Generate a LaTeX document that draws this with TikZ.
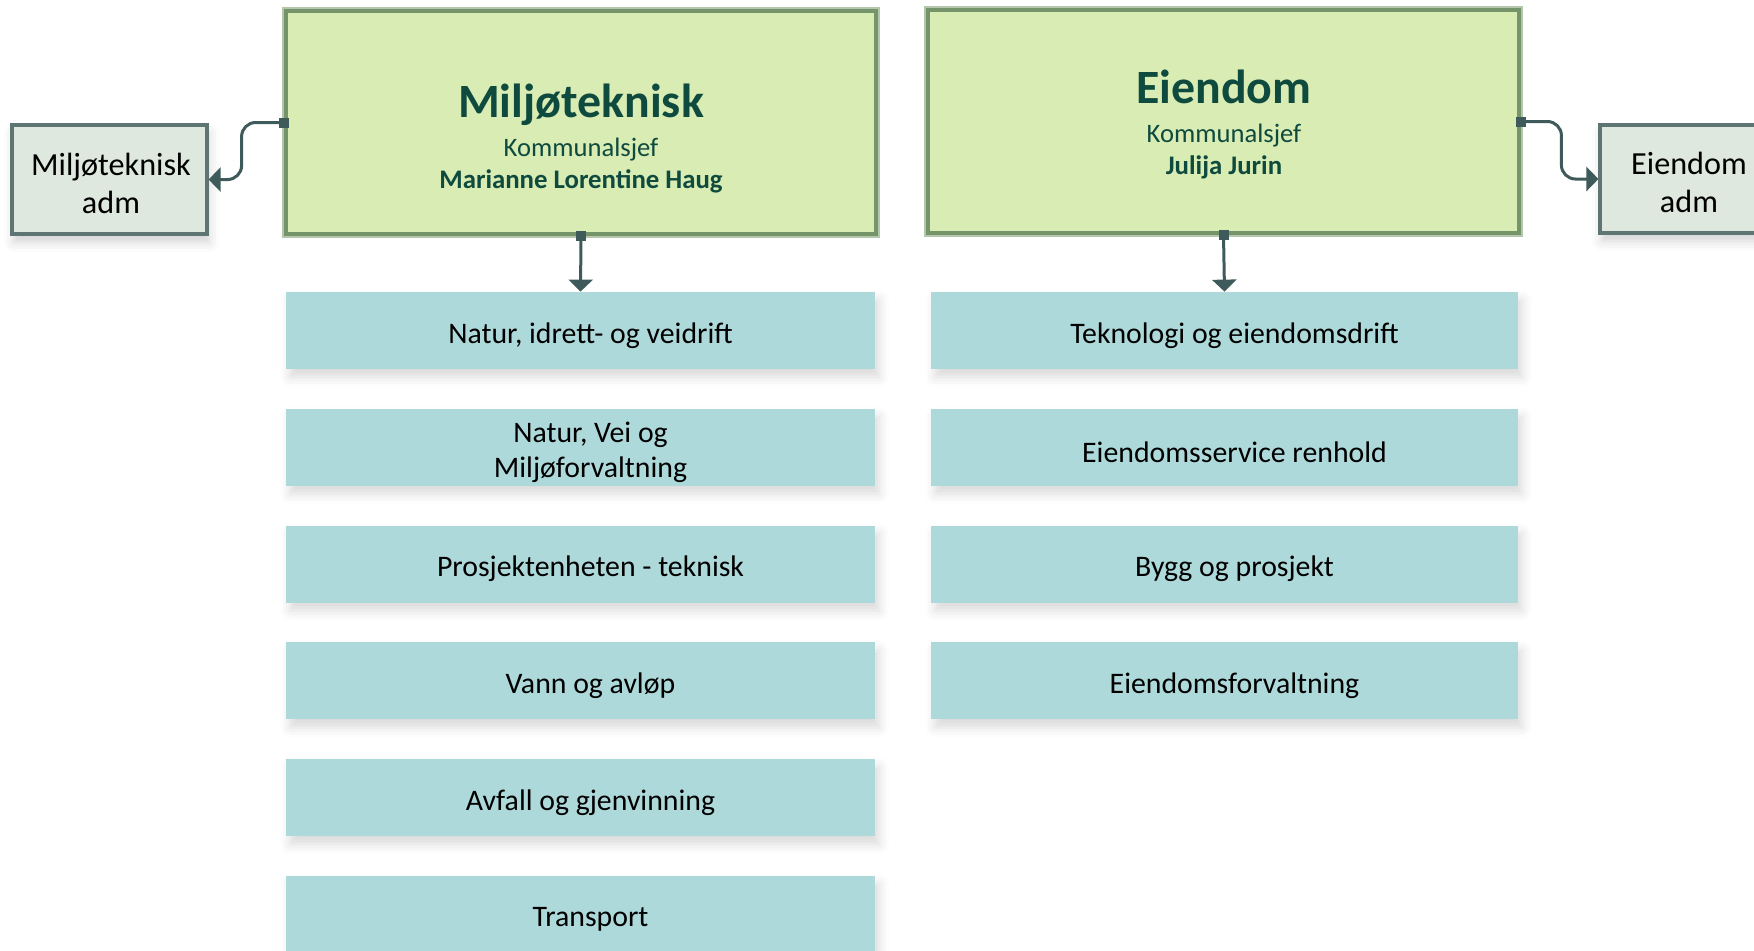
\documentclass[tikz,border=0pt]{standalone}
\usepackage{fontspec}
\setmainfont{Carlito}
\usetikzlibrary{arrows.meta,shadows.blur}
\definecolor{tealfill}{HTML}{AED9DA}
\definecolor{greenfill}{HTML}{D8ECB4}
\definecolor{greenline}{HTML}{76946A}
\definecolor{greenouter}{HTML}{B4C6AC}
\definecolor{admfill}{HTML}{DFE8DE}
\definecolor{admline}{HTML}{5E7574}
\definecolor{conncol}{HTML}{3E5A5B}
\definecolor{titlecol}{HTML}{0E4A3E}
\begin{document}
\begin{tikzpicture}[x=0.5pt,y=-0.5pt,
  mainboxstyle/.style={rectangle, fill=greenfill, draw=greenline, line width=2.4pt, inner sep=0pt},
  titletext/.style={font=\fontsize{23.9pt}{28pt}\selectfont\bfseries, text=titlecol, anchor=base, inner sep=0pt},
  subtext/.style={font=\fontsize{13.3pt}{16pt}\selectfont, text=titlecol, anchor=base, inner sep=0pt},
  nametext/.style={font=\fontsize{13.4pt}{16pt}\selectfont\bfseries, text=titlecol, anchor=base, inner sep=0pt},
  admbox/.style={rectangle, fill=admfill, draw=admline, line width=1.6pt, inner sep=0pt,
    blur shadow={shadow xshift=1pt, shadow yshift=-4pt, shadow blur radius=5pt, shadow opacity=18}},
  admtext/.style={align=center, font=\fontsize{16.1pt}{19pt}\selectfont, inner sep=0pt, yshift=-1.75pt},
  unitbox/.style={rectangle, fill=tealfill, inner sep=0pt, minimum height=38.5pt,
    blur shadow={shadow xshift=2pt, shadow yshift=-4pt, shadow blur radius=5pt, shadow opacity=15}},
  unittext/.style={font=\fontsize{14.9pt}{17.5pt}\selectfont, align=center, inner sep=0pt, yshift=-2.5pt},
  conn/.style={draw=conncol, line width=1.5pt, rounded corners=7pt, -{Triangle[width=12pt,length=6pt]}},
  marker/.style={fill=conncol, minimum size=5pt, inner sep=0pt}
]
\useasboundingbox (0,0) rectangle (1754,950);

% main boxes
\node[mainboxstyle, minimum width=295pt, minimum height=111.5pt] (mil) at (581,122.5) {};
\node[mainboxstyle, minimum width=295.5pt, minimum height=111.5pt] (eie) at (1223.5,121.5) {};
\draw[greenouter, line width=0.7pt] ([shift={(-0.6,-0.6)}]mil.north west) rectangle ([shift={(0.6,0.6)}]mil.south east);
\draw[greenouter, line width=0.7pt] ([shift={(-0.6,-0.6)}]eie.north west) rectangle ([shift={(0.6,0.6)}]eie.south east);

\node[titletext] (miltitle) at (581,117) {Miljøteknisk};
\node[subtext] (milsub) at (581,156) {Kommunalsjef};
\node[nametext] (milname) at (581,188) {Marianne Lorentine Haug};

\node[titletext] (eietitle) at (1224,103) {Eiendom};
\node[subtext] (eiesub) at (1224,142) {Kommunalsjef};
\node[nametext] (eiename) at (1224,174) {Julija Jurin};

% adm boxes
\node[admbox, minimum width=97.5pt, minimum height=54.5pt] (miladm) at (109.5,179.5) {};
\node[admtext] (miladmtxt) at (111,179.5) {Miljøteknisk\\adm};
\node[admbox, minimum width=97.5pt, minimum height=54pt] (eieadm) at (1697.5,179) {};
\node[admtext] (eieadmtxt) at (1689,179) {Eiendom\\adm};

% unit boxes left
\foreach \i/\y/\t in {1/330.5/{Natur, idrett- og veidrift},
                      2/447.3/{Natur, Vei og\\Miljøforvaltning},
                      3/564.1/{Prosjektenheten - teknisk},
                      4/680.9/{Vann og avløp},
                      5/797.7/{Avfall og gjenvinning},
                      6/914.5/{Transport}} {
  \node[unitbox, minimum width=294.5pt] (l\i) at (580.5,\y) {};
  \node[unittext] (l\i txt) at (590.5,\y) {\t};
}
% unit boxes right
\foreach \i/\y/\t in {1/330.5/{Teknologi og eiendomsdrift},
                      2/447.3/{Eiendomsservice renhold},
                      3/564.1/{Bygg og prosjekt},
                      4/680.9/{Eiendomsforvaltning}} {
  \node[unitbox, minimum width=293.5pt] (r\i) at (1224.5,\y) {};
  \node[unittext] (r\i txt) at (1234.5,\y) {\t};
}

% connectors
\draw[conn] (mil.west) -- ++(-42,0) |- (miladm.east);
\draw[conn] (eie.east) -- ++(40,0) |- (eieadm.west);
\draw[conn] (mil.south) -- (l1.north);
\draw[conn] (eie.south) -- (r1.north);
\node[marker] (m1) at (mil.west) {};
\node[marker] (m2) at (eie.east) {};
\node[marker] (m3) at (mil.south) {};
\node[marker] (m4) at (eie.south) {};
\end{tikzpicture}
\end{document}
